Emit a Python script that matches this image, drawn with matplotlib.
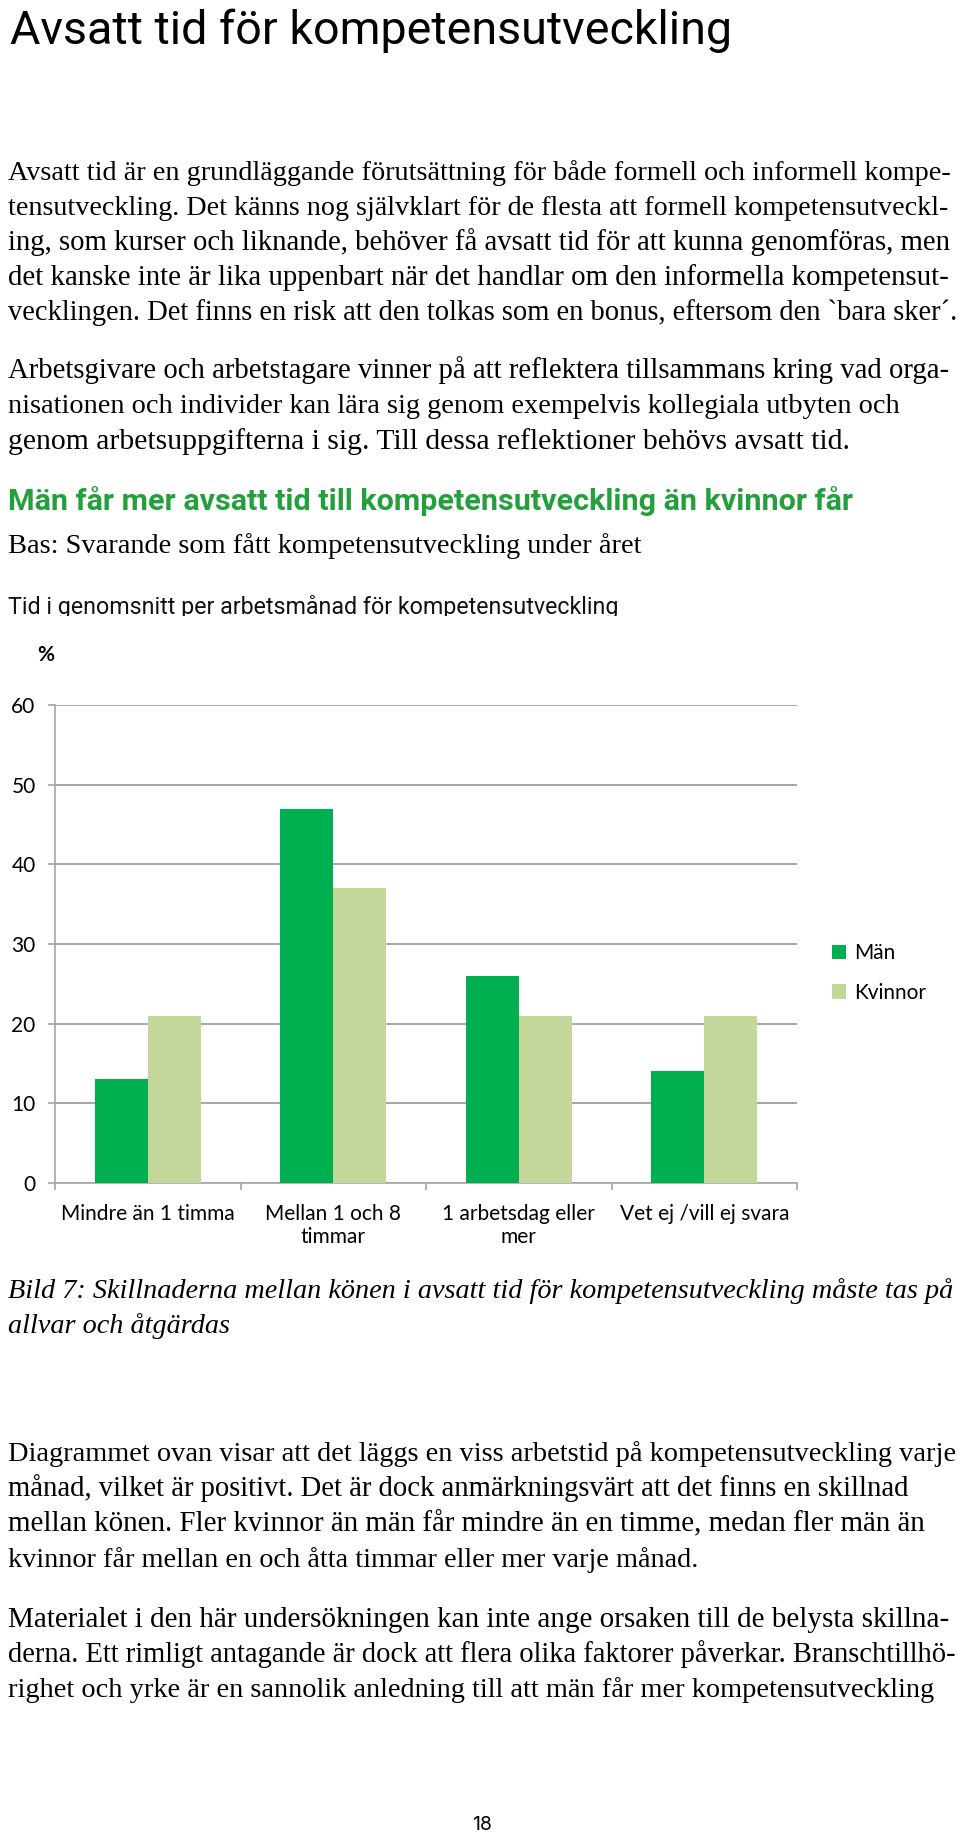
import matplotlib
matplotlib.use("Agg")
import matplotlib.pyplot as plt
import numpy as np
from matplotlib import font_manager as fm
from matplotlib.transforms import Bbox, TransformedBbox

# Data
categories = ["Mindre än 1 timma", "Mellan 1 och 8\ntimmar",
              "1 arbetsdag eller\nmer", "Vet ej /vill ej svara"]
man = [13, 47, 26, 14]
kvinnor = [21, 37, 21, 21]
series_labels = ["Män", "Kvinnor"]
yticks = [0, 10, 20, 30, 40, 50, 60]

title = "Avsatt tid för kompetensutveckling"
para1 = [
    "Avsatt tid är en grundläggande förutsättning för både formell och informell kompe-",
    "tensutveckling. Det känns nog självklart för de flesta att formell kompetensutveckl-",
    "ing, som kurser och liknande, behöver få avsatt tid för att kunna genomföras, men",
    "det kanske inte är lika uppenbart när det handlar om den informella kompetensut-",
    "vecklingen. Det finns en risk att den tolkas som en bonus, eftersom den `bara sker´.",
]
para2 = [
    "Arbetsgivare och arbetstagare vinner på att reflektera tillsammans kring vad orga-",
    "nisationen och individer kan lära sig genom exempelvis kollegiala utbyten och",
    "genom arbetsuppgifterna i sig. Till dessa reflektioner behövs avsatt tid.",
]
heading = "Män får mer avsatt tid till kompetensutveckling än kvinnor får"
bas = "Bas: Svarande som fått kompetensutveckling under året"
chart_title = "Tid i genomsnitt per arbetsmånad för kompetensutveckling"
caption = [
    "Bild 7: Skillnaderna mellan könen i avsatt tid för kompetensutveckling måste tas på",
    "allvar och åtgärdas",
]
para3 = [
    "Diagrammet ovan visar att det läggs en viss arbetstid på kompetensutveckling varje",
    "månad, vilket är positivt. Det är dock anmärkningsvärt att det finns en skillnad",
    "mellan könen. Fler kvinnor än män får mindre än en timme, medan fler män än",
    "kvinnor får mellan en och åtta timmar eller mer varje månad.",
]
para4 = [
    "Materialet i den här undersökningen kan inte ange orsaken till de belysta skillna-",
    "derna. Ett rimligt antagande är dock att flera olika faktorer påverkar. Branschtillhö-",
    "righet och yrke är en sannolik anledning till att män får mer kompetensutveckling",
]

# right edge (px) of each printed line
right1 = [947, 947, 947, 947, 959]
right2 = [947, 900, 846]
right3 = [956, 906, 924, 697]
right4 = [947, 956, 935]


def pick(*names):
    for n in names:
        try:
            fm.findfont(fm.FontProperties(family=n), fallback_to_default=False)
            return n
        except ValueError:
            pass
    return "DejaVu Sans"


COND = pick("Liberation Sans Narrow", "Roboto", "Liberation Sans")
SERIF = pick("Liberation Serif", "DejaVu Serif")
CHART = pick("Lato", "Open Sans", "DejaVu Sans")

W, H = 960, 1834
fig = plt.figure(figsize=(W / 100, H / 100), dpi=100)
renderer = fig.canvas.get_renderer()


def fx(x):
    return x / W


def fy(y):
    return 1 - y / H


def put(x, y, s, **kw):
    kw.setdefault("va", "baseline")
    return fig.text(fx(x), fy(y), s, **kw)


def fit(t, width):
    w = t.get_window_extent(renderer).width
    t.set_fontsize(t.get_fontsize() * width / w)
    return t.get_fontsize()


def paragraph(lines, rights, y0, step, size, **kw):
    for i, (s, r) in enumerate(zip(lines, rights)):
        t = put(8, y0 + step * i, s, fontsize=size, **kw)
        fs = fit(t, r - 8)
        t.set_fontsize(min(max(fs, size * 0.94), size * 1.04))


# header
t = put(10, 44, title, family=COND, fontsize=30, color="black")
fit(t, 721)

# body size from the last line of paragraph two
probe = put(8, -100, para2[2], family=SERIF, fontsize=18)
body = fit(probe, 838)
probe.remove()

paragraph(para1, right1, 180, 35, body, family=SERIF)
paragraph(para2, right2, 378, 35.3, body, family=SERIF)

t = put(8, 510, heading, family=COND, fontsize=20, weight="bold", color="#23a03c")
fit(t, 842)
t = put(8, 553, bas, family=SERIF, fontsize=18)
fit(t, 633)
t = put(8, 614, chart_title, family=COND, fontsize=18, color="#111111")
fit(t, 612)
t.set_clip_box(TransformedBbox(Bbox.from_extents(0, fy(616), 1, 1), fig.transFigure))
t.set_clip_on(True)

put(46, 655, "%", family=CHART, fontsize=15, ha="center", va="center", weight="bold")

# chart
ax = fig.add_axes([fx(55), fy(1183), (797 - 55) / W, (1183 - 705) / H])
x = np.arange(len(categories))
bw = 0.287
ax.bar(x - bw / 2, man, bw, color="#00b050", label=series_labels[0], zorder=3)
ax.bar(x + bw / 2, kvinnor, bw, color="#c4d79b", label=series_labels[1], zorder=3)
ax.set_xlim(-0.5, len(categories) - 0.5)
ax.set_ylim(0, 60)
ax.set_yticks(yticks)
ax.yaxis.grid(True, color="#a6a6a6", linewidth=1.4, zorder=0)
ax.set_axisbelow(True)
for side in ["top", "right"]:
    ax.spines[side].set_visible(False)
for side in ["left", "bottom"]:
    ax.spines[side].set_color("#a6a6a6")
    ax.spines[side].set_linewidth(1.2)
ax.set_xticks(x)
ax.set_xticklabels(categories, family=CHART, fontsize=15, linespacing=1.2)
ax.set_xticks(np.arange(len(categories) + 1) - 0.5, minor=True)
ax.tick_params(axis="x", which="major", length=0, pad=15)
ax.tick_params(axis="x", which="minor", length=5, color="#a6a6a6", width=1.2)
ax.tick_params(axis="y", length=5, color="#a6a6a6", width=1.2, pad=9)
for lab in ax.get_yticklabels():
    lab.set_family(CHART)
    lab.set_fontsize(15)

fig.legend(loc="center left", bbox_to_anchor=(fx(813), fy(973)), frameon=False,
           prop={"family": CHART, "size": 15}, handlelength=0.7, handleheight=0.7,
           handletextpad=0.35, labelspacing=0.95)

# caption
t = put(8, 1298, caption[0], family=SERIF, style="italic", fontsize=18)
cap = fit(t, 948)
put(8, 1333, caption[1], family=SERIF, style="italic", fontsize=cap)

paragraph(para3, right3, 1461, 35.2, body, family=SERIF)
paragraph(para4, right4, 1627, 35.2, body, family=SERIF)

put(482, 1830, "18", family=pick("Inter", "Roboto", "DejaVu Sans"), fontsize=14,
    ha="center")

fig.savefig("out.png", dpi=100)
